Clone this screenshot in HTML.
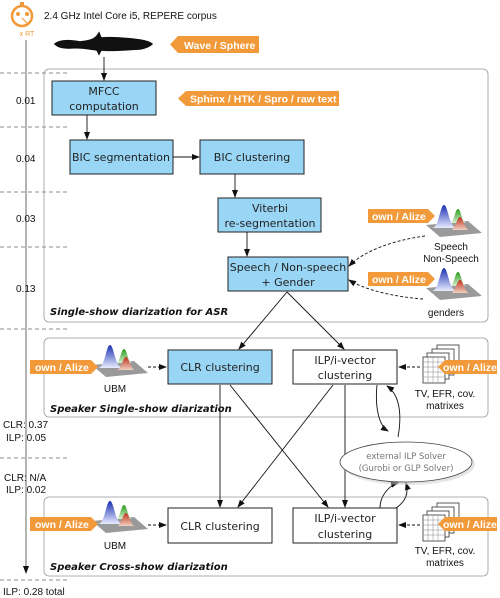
<!DOCTYPE html>
<html><head><meta charset="utf-8"><style>
html,body{margin:0;padding:0;background:#fff;}
svg{display:block;font-family:"Liberation Sans",sans-serif;}
.b{font-family:"DejaVu Sans","Liberation Sans",sans-serif;font-size:11px;fill:#222;}
.t{font-size:10px;fill:#111;}
.tag{font-size:10.5px;font-weight:bold;fill:#fff;}
.lab{font-family:"DejaVu Sans","Liberation Sans",sans-serif;font-size:10px;font-weight:bold;font-style:italic;fill:#111;}
</style></head><body>
<svg width="500" height="598" viewBox="0 0 500 598" xmlns="http://www.w3.org/2000/svg">
<defs>
<marker id="a" markerWidth="8" markerHeight="8" refX="7" refY="4" orient="auto" markerUnits="userSpaceOnUse"><path d="M0,1 L8,4 L0,7 Z" fill="#111"/></marker>
<linearGradient id="gb" x1="0" y1="0" x2="0" y2="1"><stop offset="0" stop-color="#1a2fb0"/><stop offset="1" stop-color="#e8ecff"/></linearGradient>
<linearGradient id="gg" x1="0" y1="0" x2="0" y2="1"><stop offset="0" stop-color="#2a9a1a"/><stop offset="1" stop-color="#d8f0d0"/></linearGradient>
<linearGradient id="gr" x1="0" y1="0" x2="0" y2="1"><stop offset="0" stop-color="#c0301a"/><stop offset="1" stop-color="#f0d0c0"/></linearGradient>
<g id="gauss">
<polygon points="0,20 42,16 56,28 14,32" fill="#9a9a9a"/>
<path d="M6,23 C13,23 14,0 18,0 C22,0 23,23 31,23 Z" fill="url(#gb)"/>
<path d="M24,18 C28,18 29,4 32,4 C35,4 36,18 40,18 Z" fill="url(#gg)"/>
<path d="M25,25 C29,25 31,12 34,12 C37,12 39,25 43,25 Z" fill="url(#gr)"/>
</g>
<g id="mat" fill="#fff" stroke="#333" stroke-width="0.8">
<rect x="14" y="0" width="22" height="26"/>
<rect x="9" y="4" width="22" height="26"/>
<rect x="4" y="8" width="22" height="26"/>
<rect x="0" y="12" width="22" height="26"/>
<path d="M0,17H22M0,22H22M0,27H22M0,32H22M5,12V38M10,12V38M15,12V38" stroke="#888" stroke-width="0.5"/>
</g>
</defs>

<circle cx="22" cy="16" r="10" fill="#fff" stroke="#f29a3a" stroke-width="2.5"/>
<rect x="20" y="2" width="4" height="3" fill="#f29a3a"/>
<circle cx="18" cy="14" r="2" fill="#f29a3a"/><circle cx="27" cy="14" r="2" fill="#f29a3a"/>
<path d="M22,18 L28,24" stroke="#f29a3a" stroke-width="1.2"/>
<text x="27" y="36" font-size="7" fill="#f29a3a" text-anchor="middle">x RT</text>
<text x="44" y="19" class="t" font-size="10">2.4 GHz Intel Core i5, REPERE corpus</text>

<path d="M55,44 C60,40 70,40 80,42 C88,41 94,40 97,36 L99,33 L101,38 C110,37 125,38 140,40 C146,41 150,42 152,44 C150,46 146,48 140,49 C125,50 110,51 101,50 L99,54 L97,50 C90,49 80,47 70,48 C62,48 58,47 55,44 Z" fill="#111" stroke="#111" stroke-width="1.5"/>

<polygon points="170,44.5 178,36 259,36 259,53 178,53" fill="#f29a3a"/>
<text x="184" y="49" class="tag">Wave / Sphere</text>
<polygon points="178,98.5 186,91 339,91 339,106 186,106" fill="#f29a3a"/>
<text x="190" y="102.5" class="tag">Sphinx / HTK / Spro / raw text</text>

<line x1="26" y1="40" x2="26" y2="573" stroke="#444" stroke-width="0.8" marker-end="url(#a)"/>
<g stroke="#666" stroke-width="0.8" stroke-dasharray="4,3">
<line x1="0" y1="73" x2="70" y2="73"/><line x1="0" y1="127" x2="70" y2="127"/>
<line x1="0" y1="192" x2="70" y2="192"/><line x1="0" y1="247" x2="70" y2="247"/>
<line x1="0" y1="329" x2="70" y2="329"/><line x1="0" y1="458" x2="70" y2="458"/>
<line x1="0" y1="580" x2="70" y2="580"/>
</g>
<g class="t">
<text x="16" y="104">0.01</text><text x="16" y="162">0.04</text>
<text x="16" y="222">0.03</text><text x="16" y="292">0.13</text>
<text x="3" y="428">CLR: 0.37</text><text x="6" y="441">ILP: 0.05</text>
<text x="4" y="481">CLR: N/A</text><text x="6" y="493">ILP: 0.02</text>
<text x="3" y="595">ILP: 0.28 total</text>
</g>

<g fill="none" stroke="#999" stroke-width="0.8">
<rect x="44" y="69" width="444" height="253" rx="5"/>
<rect x="44" y="338" width="444" height="79" rx="5"/>
<rect x="44" y="497" width="444" height="79" rx="5"/>
</g>
<text x="50" y="315" class="lab">Single-show diarization for ASR</text>
<text x="50" y="412" class="lab">Speaker Single-show diarization</text>
<text x="50" y="570" class="lab">Speaker Cross-show diarization</text>

<g stroke="#222" stroke-width="1">
<rect x="52" y="81" width="104" height="34" fill="#99d6f5"/>
<rect x="70" y="140" width="103" height="34" fill="#99d6f5"/>
<rect x="200" y="140" width="104" height="34" fill="#99d6f5"/>
<rect x="218" y="198" width="103" height="34" fill="#99d6f5"/>
<rect x="228" y="257" width="120" height="34" fill="#99d6f5"/>
<rect x="168" y="350" width="104" height="34" fill="#99d6f5"/>
<rect x="293" y="350" width="104" height="34" fill="#fff"/>
<rect x="168" y="508" width="104" height="35" fill="#fff"/>
<rect x="293" y="508" width="104" height="35" fill="#fff"/>
</g>
<g class="b" text-anchor="middle">
<text x="104" y="95">MFCC</text><text x="104" y="110">computation</text>
<text x="121" y="161">BIC segmentation</text>
<text x="252" y="161">BIC clustering</text>
<text x="270" y="212">Viterbi</text><text x="270" y="227">re-segmentation</text>
<text x="288" y="271">Speech / Non-speech</text><text x="288" y="286">+ Gender</text>
<text x="220" y="371">CLR clustering</text>
<text x="345" y="364">ILP/i-vector</text><text x="345" y="379">clustering</text>
<text x="220" y="530">CLR clustering</text>
<text x="345" y="522">ILP/i-vector</text><text x="345" y="538">clustering</text>
</g>

<g stroke="#111" stroke-width="0.9" fill="none" marker-end="url(#a)">
<line x1="104" y1="57" x2="104" y2="80"/>
<line x1="87" y1="115" x2="87" y2="139"/>
<line x1="173" y1="157" x2="199" y2="157"/>
<line x1="235" y1="174" x2="235" y2="197"/>
<line x1="247" y1="232" x2="247" y2="256"/>
<line x1="287" y1="292" x2="239" y2="349"/>
<line x1="287" y1="292" x2="344" y2="349"/>
<line x1="220" y1="385" x2="220" y2="507"/>
<line x1="345" y1="385" x2="345" y2="507"/>
<line x1="230" y1="385" x2="328" y2="507"/>
<line x1="333" y1="385" x2="238" y2="507"/>
<path d="M377,385 C375,405 378,425 388,431"/>
<path d="M398,437 C402,415 400,395 387,386"/>
<path d="M380,508 C380,495 390,485 398,483"/>
<path d="M396,508 C408,500 408,490 406,483"/>
</g>

<ellipse cx="408" cy="464" rx="67" ry="21" fill="#ccc" opacity="0.5"/>
<ellipse cx="406" cy="462" rx="66" ry="20" fill="#fff" stroke="#444" stroke-width="0.8"/>
<text x="406" y="459" text-anchor="middle" font-size="8.5" fill="#777" font-family="DejaVu Sans,sans-serif">external ILP Solver</text>
<text x="406" y="471" text-anchor="middle" font-size="8.5" fill="#777" font-family="DejaVu Sans,sans-serif">(Gurobi or GLP Solver)</text>

<use href="#gauss" x="426" y="205"/>
<use href="#gauss" x="426" y="268"/>
<use href="#gauss" x="92" y="345"/>
<use href="#gauss" x="92" y="501"/>
<use href="#mat" x="423" y="345"/>
<use href="#mat" x="423" y="503"/>
<g class="t" text-anchor="middle">
<text x="451" y="250">Speech</text><text x="451" y="262">Non-Speech</text>
<text x="446" y="316">genders</text>
<text x="115" y="392">UBM</text><text x="115" y="549">UBM</text>
<text x="445" y="397">TV, EFR, cov.</text><text x="445" y="409">matrixes</text>
<text x="445" y="554">TV, EFR, cov.</text><text x="445" y="566">matrixes</text>
</g>

<g class="tag">
<polygon points="368,209 428,209 435,216 428,223 368,223" fill="#f29a3a"/><text x="372" y="220">own / Alize</text>
<polygon points="368,272 428,272 435,279 428,286 368,286" fill="#f29a3a"/><text x="372" y="283">own / Alize</text>
<polygon points="30,360 91,360 98,367 91,374 30,374" fill="#f29a3a"/><text x="35" y="371">own / Alize</text>
<polygon points="30,517 91,517 98,524 91,531 30,531" fill="#f29a3a"/><text x="35" y="528">own / Alize</text>
<polygon points="438,367 445,360 497,360 497,374 445,374" fill="#f29a3a"/><text x="443" y="371">own / Alize</text>
<polygon points="438,524 445,517 497,517 497,531 445,531" fill="#f29a3a"/><text x="443" y="528">own / Alize</text>
</g>

<g stroke="#111" stroke-width="0.9" fill="none" stroke-dasharray="3,2" marker-end="url(#a)">
<path d="M425,236 C395,240 365,250 349,266"/>
<path d="M423,299 C395,297 365,290 349,280"/>
<line x1="148" y1="367" x2="166" y2="367"/>
<line x1="148" y1="525" x2="166" y2="525"/>
<line x1="420" y1="367" x2="399" y2="367"/>
<line x1="420" y1="525" x2="399" y2="525"/>
</g>
</svg>
</body></html>
